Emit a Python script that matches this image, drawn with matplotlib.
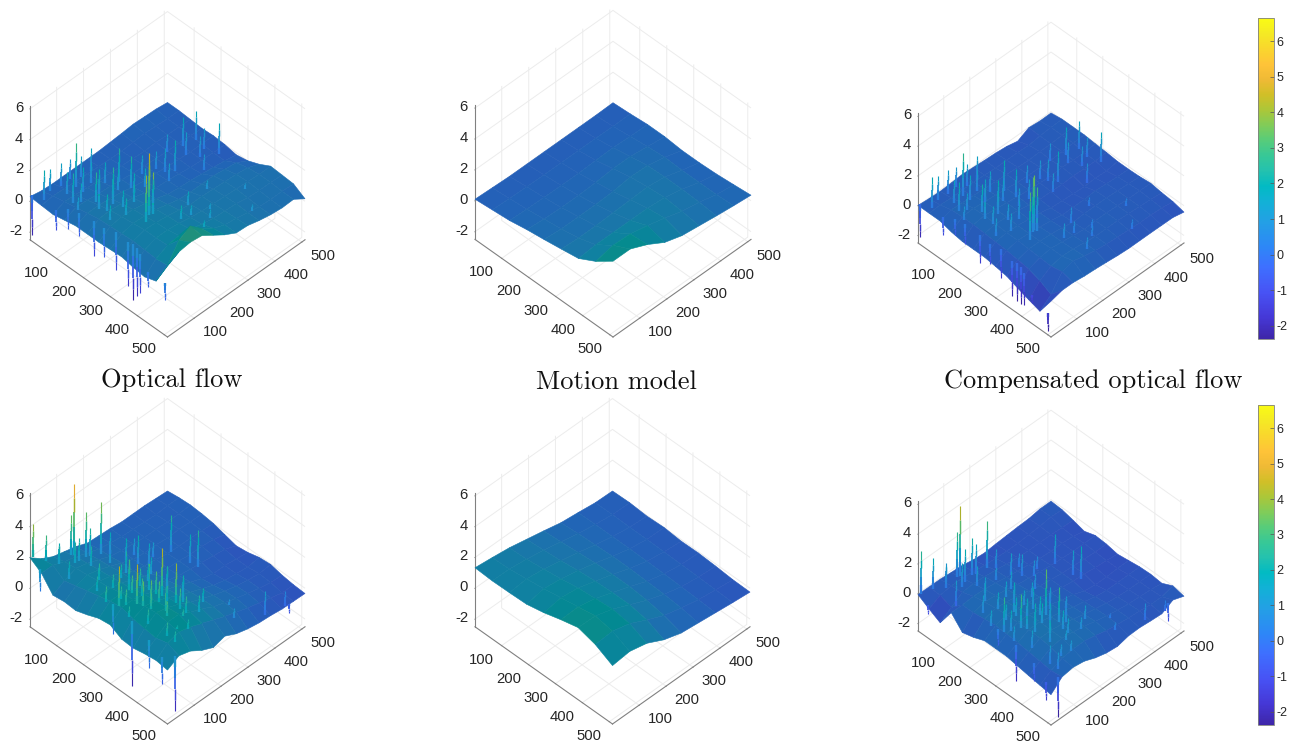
import numpy as np
import matplotlib
matplotlib.use("Agg")
import matplotlib.pyplot as plt
from matplotlib.colors import ListedColormap, LinearSegmentedColormap, Normalize
from matplotlib.cm import ScalarMappable
from mpl_toolkits.mplot3d import proj3d
from mpl_toolkits.mplot3d.art3d import Line3DCollection

plt.rcParams['font.family'] = ['Liberation Sans', 'DejaVu Sans']

titles = ["Optical flow", "Motion model", "Compensated optical flow"]
xy_ticks = [100, 200, 300, 400, 500]
z_ticks = [-2, 0, 2, 4, 6]
bar_ticks = [-2, -1, 0, 1, 2, 3, 4, 5, 6]

parula_stops = [0, 4, 9, 14, 18, 23, 27, 30, 33, 36, 39, 42, 45, 48, 51, 54, 57, 60, 63]
parula_colors = [
    (.2422, .1504, .6603), (.2706, .2147, .8364), (.2810, .3228, .9579), (.2440, .4358, .9988),
    (.1786, .5289, .9682), (.1380, .6276, .8973), (.0689, .6948, .8394), (.0067, .7312, .7660),
    (.1408, .7584, .6842), (.2161, .7843, .5923), (.3406, .8008, .4789), (.5044, .7993, .3480),
    (.6720, .7793, .2227), (.8203, .7498, .1535), (.9393, .7288, .2100), (.9970, .7659, .2199),
    (.9786, .8386, .1766), (.9597, .9135, .1423), (.9769, .9839, .0805),
]

# heights, rows go along the left-front edge, columns along the right-front edge
flow_a = [
    [.3, .15, .1, .1, .1, .1, .1, .15, .2, .27, .23, .2, .1],
    [.25, .35, .3, .25, .2, .15, .12, .1, .15, .2, .15, .1, .1],
    [.2, .5, .45, .35, .3, .25, .2, .15, .1, .15, .1, .1, .05],
    [.35, .65, .6, .5, .45, .35, .25, .2, .15, .1, .1, .05, 0],
    [.5, .8, .8, .7, .6, .4, .3, .25, .15, .1, .05, .05, .05],
    [.5, .95, 1.0, .9, .75, .55, .35, .3, .2, .1, .05, 0, 0],
    [.5, 1.0, 1.1, 1.05, .9, .7, .45, .35, .3, .2, .1, 0, -.14],
    [.55, 1.05, 1.2, 1.15, 1.05, .85, .65, .6, .6, .6, .5, .4, 0],
    [.6, 1.1, 1.3, 1.25, 1.15, 1.0, .85, .85, .8, .75, .7, .6, .3],
    [.45, 1.05, 1.3, 1.3, 1.2, 1.05, .95, .9, .85, .8, .75, .7, .7],
    [.35, 1.0, 1.35, 1.45, 1.35, 1.15, 1.0, .95, .9, .75, .7, .7, .65],
    [.6, 1.1, 2.2, 2.6, 1.9, 1.4, 1.1, 1.0, .85, .7, .65, .65, .6],
    [2.1, 2.5, 2.6, 2.5, 2.0, 1.5, 1.1, 1.05, .85, .7, .62, .65, .16],
]
model_a = [
    [.1, .05, 0, 0, 0, 0, 0, 0, .03],
    [.2, .15, .12, .1, .1, .1, .1, .08, .1],
    [.3, .25, .22, .2, .2, .25, .28, .22, .2],
    [.5, .4, .35, .35, .4, .5, .5, .35, .2],
    [.65, .55, .55, .55, .6, .75, .7, .45, .1],
    [.82, .75, .75, .8, .85, .9, .75, .4, .1],
    [1.0, 1.1, 1.1, 1.1, 1.1, 1.0, .75, .4, .15],
    [1.6, 1.85, 1.8, 1.55, 1.25, .9, .7, .4, .25],
    [2.4, 2.4, 1.9, 1.25, .9, .75, .6, .47, .36],
]
comp_a = [
    [.02, -.05, -.09, -.05, 0, -.05, -.11, -.15, -.23, -.4, -.02, -.1, -.09],
    [.02, .05, 0, 0, 0, -.05, -.1, -.1, -.1, -.15, -.05, 0, .02],
    [.02, .25, .2, .15, .1, .05, 0, -.05, -.1, -.05, -.05, 0, .02],
    [-.18, .3, .35, .25, .2, .1, 0, -.05, -.05, -.1, -.05, 0, .02],
    [-.3, .3, .4, .3, .2, .1, 0, -.05, -.1, -.05, -.1, -.1, -.05],
    [-.3, .25, .35, .3, .2, .05, -.1, -.1, -.15, -.1, -.15, -.15, -.1],
    [-.3, .2, .3, .25, .15, .05, -.15, -.2, -.25, -.3, -.25, -.3, -.18],
    [-.4, .15, .3, .25, .15, .05, -.1, -.1, -.1, -.05, -.1, -.15, -.18],
    [-.52, .05, .25, .25, .2, .1, -.05, 0, 0, 0, -.05, -.1, -.15],
    [-.8, -.05, .2, .3, .2, .1, 0, .05, .05, 0, -.05, -.05, -.07],
    [-1.06, -.3, .15, .3, .25, .15, .05, .05, .05, 0, -.05, -.1, -.18],
    [-1.3, -.7, .3, .5, .3, .15, .05, 0, -.05, -.1, -.1, -.15, -.25],
    [-.1, .1, .1, 0, -.05, -.12, -.2, -.25, -.25, -.25, -.26, -.27, -.43],
]
flow_b = [
    [1.98, 1.4, 1.0, .8, .6, .3, .25, .2, .1, .1, .1, .05, 0],
    [1.5, 1.5, 1.2, 1.0, .7, .45, .3, .2, .15, .1, .05, .1, .1],
    [.6, 1.0, 1.3, 1.1, .8, .5, .35, .25, .15, .15, .1, .1, .15],
    [.7, 1.2, 1.4, 1.2, .9, .6, .3, .2, .2, .1, .15, .1, .1],
    [.65, 1.4, 1.5, 1.3, 1.0, .6, .4, .3, .15, .1, .1, .05, 0],
    [.9, 1.6, 1.6, 1.4, 1.1, .8, .4, .25, .2, .1, .1, 0, -.2],
    [1.2, 1.8, 1.8, 1.5, 1.2, .9, .5, .3, .2, .1, 0, -.1, -.4],
    [1.3, 1.9, 1.9, 1.7, 1.4, 1.0, .7, .4, .1, -.1, -.1, -.2, -.3],
    [.9, 1.7, 2.0, 1.8, 1.5, 1.1, .8, .5, .2, 0, -.1, -.2, -.1],
    [.85, 1.6, 2.1, 1.9, 1.6, 1.2, .9, .6, .35, .15, 0, -.1, -.03],
    [1.0, 1.5, 2.0, 2.0, 1.6, 1.3, .9, .65, .4, .2, 0, -.15, -.2],
    [1.1, 1.7, 1.9, 1.7, 1.4, 1.1, .8, .55, .3, .1, -.1, -.3, -.3],
    [1.0, 1.4, 1.18, .7, .36, .57, .2, -.01, -.14, -.2, -.3, -.32, -.34],
]
model_b = [
    [1.33, 1.2, 1.05, .81, .57, .31, .18, .03, 0],
    [1.27, 1.25, 1.1, .9, .65, .4, .2, .05, .03],
    [1.29, 1.4, 1.25, 1.0, .75, .45, .2, .02, -.05],
    [1.33, 1.55, 1.4, 1.15, .85, .5, .2, .02, 0],
    [1.57, 1.75, 1.6, 1.25, .9, .5, .18, 0, -.1],
    [1.9, 1.95, 1.7, 1.3, .9, .45, .15, -.03, -.08],
    [2.18, 2.15, 1.8, 1.3, .8, .4, .1, -.06, -.14],
    [1.87, 1.95, 1.65, 1.1, .6, .3, .05, -.1, -.23],
    [1.29, 1.42, 1.16, .6, .25, .12, -.01, -.14, -.25],
]
comp_b = [
    [-.06, -.07, -.08, -.15, -.2, -.35, -.42, -.35, -.3, -.25, -.22, -.1, -.1],
    [-.5, -.1, 0, 0, -.1, -.2, -.25, -.3, -.3, -.25, -.2, -.1, -.15],
    [-.9, -.4, .1, .15, .1, 0, -.1, -.2, -.25, -.25, -.25, -.3, -.33],
    [.3, .3, .35, .3, .2, .05, -.05, -.15, -.25, -.3, -.3, -.35, -.54],
    [-.5, .3, .5, .4, .3, .1, 0, -.1, -.2, -.25, -.3, -.3, -.3],
    [-.3, .4, .6, .5, .4, .2, 0, -.1, -.2, -.25, -.3, -.35, -.35],
    [0, .5, .7, .6, .5, .3, .05, -.1, -.2, -.25, -.35, -.4, -.5],
    [0, .45, .7, .7, .5, .35, .1, -.05, -.35, -.45, -.45, -.4, -.4],
    [0, .4, .75, .75, .55, .4, .15, 0, -.2, -.3, -.3, -.3, -.3],
    [-.13, .3, .7, .7, .6, .4, .2, .05, -.1, -.2, -.25, -.25, -.27],
    [-.25, .2, .6, .7, .6, .45, .25, .1, -.05, -.15, -.2, -.25, -.35],
    [-.36, .1, .4, .5, .5, .35, .15, .05, -.05, -.1, -.2, -.2, 0],
    [-.47, .2, .32, .2, -.1, -.3, -.38, -.2, -.18, -.25, -.3, .1, -.17],
]

# spikes standing out of the rough surfaces, same places before and after compensation
spike_u_a = [35, 25, 22, 21, 60, 42, 43, 131, 170, 148, 321, 298, 310, 290, 305, 377, 379, 396, 473, 145, 151, 229,
             199, 202, 180, 105, 157, 181, 171, 225, 203, 2, 210, 285, 335, 350, 365, 490, 80, 155, 420, 385, 120, 250,
             70, 90, 120, 130, 80, 110, 160, 190, 210, 140, 240, 260, 240, 270, 200, 160, 220, 130, 170, 250, 190, 340, 420, 450, 330, 400]
spike_v_a = [19, 53, 94, 128, 114, 149, 185, 203, 207, 272, 113, 148, 150, 155, 140, 187, 223, 276, 353, 427, 468, 476,
             341, 431, 322, 55, 90, 78, 138, 121, 187, 8, 30, 36, 30, 34, 34, 12, 17, 29, 20, 25, 25, 28,
             70, 110, 70, 130, 150, 170, 170, 120, 80, 40, 60, 100, 150, 190, 230, 310, 300, 380, 410, 400, 460, 250, 250, 200, 330, 400]
spike_z_flow_a = [2.2, 1.75, 1.6, 1.4, 3.1, 1.6, 1.7, 2.55, 2.45, 1.5, 4.3, 5.0, 3.9, 4.4, 4.0, 2.1, 1.7, 1.4, 1.3, 2.0, 1.95, 2.0,
                  2.2, 1.4, 1.7, 2.45, 2.7, 2.9, 2.6, 2.0, 2.0, -2.26, -1.35, -1.37, -1.76, -2.5, -2.09, -.5, -1.07, -.72, -.6, -1.5, -.6, -.9,
                  1.9, 2.0, 1.8, 2.1, 1.7, 1.8, 2.0, 2.3, 2.1, 1.5, 2.0, 2.2, 2.2, 2.4, 1.8, 1.4, 1.5, 1.3, 1.5, 1.2, 1.4, 1.8, 1.6, 1.9, 1.4, 1.2]
spike_z_comp_a = [2.1, 1.65, 1.5, 1.3, 2.9, 1.5, 1.6, 2.2, 2.0, 1.2, 3.5, 3.9, 3.2, 3.6, 3.3, 1.2, .9, .6, .6, 1.8, 1.8, 1.9,
                  1.9, 1.2, 1.4, 2.2, 2.3, 2.4, 2.1, 1.4, 1.4, -2.2, -1.6, -1.8, -2.3, -2.5, -2.5, -2.5, -1.2, -1.0, -1.6, -2.2, -.8, -1.2,
                  1.7, 1.8, 1.5, 1.8, 1.5, 1.6, 1.6, 1.8, 1.6, 1.2, 1.4, 1.5, 1.5, 1.6, 1.4, 1.2, 1.2, 1.1, 1.3, 1.0, 1.3, 1.0, .8, 1.0, .6, .5]
spike_u_b = [4, 15, 20, 30, 35, 50, 55, 65, 60, 90, 290, 323, 326, 375, 263, 337, 285, 250, 390, 324, 385, 410, 175, 240, 265, 130,
             150, 175, 500, 510, 140, 345, 470, 505, 420, 270, 30, 510, 300, 350, 310, 360, 400, 270, 330, 220, 200, 250, 430, 440, 460, 380,
             40, 70, 100, 120, 170, 190, 230, 260, 280, 300, 340, 360, 350, 410, 420, 450, 480, 470, 290, 340, 220, 180, 120, 160, 80, 440, 480]
spike_v_b = [8, 45, 90, 123, 129, 159, 169, 202, 124, 57, 44, 76, 166, 170, 107, 84, 160, 34, 119, 147, 185, 235, 352, 356, 362, 229,
             252, 271, 376, 441, 119, 35, 22, 35, 26, 39, 11, 453, 120, 130, 200, 210, 160, 70, 40, 90, 140, 190, 200, 130, 90, 60,
             70, 100, 130, 180, 90, 60, 140, 150, 100, 60, 110, 90, 160, 100, 160, 60, 60, 120, 220, 230, 230, 180, 270, 300, 220, 300, 280]
spike_z_flow_b = [4.1, 3.1, 2.1, 3.6, 5.6, 3.6, 2.5, 3.9, 2.5, 2.2, 4.5, 4.6, 4.6, 4.2, 3.7, 3.6, 3.3, 2.8, 3.8, 3.3, 2.3, 2.2, 2.6, 2.07, 2.6, 2.07,
                  2.2, 1.76, 1.35, .66, 1.8, -2.5, -.7, -2.17, -.3, -.14, .05, -.9, 2.9, 3.2, 2.8, 2.6, 3.0, 2.6, 2.4, 2.5, 2.3, 2.4, 2.4, 2.5, 2.2, 2.6,
                  2.4, 2.6, 2.4, 2.0, 2.6, 2.4, 3.0, 2.7, 3.1, 2.9, 3.4, 3.0, 2.9, 3.0, 2.7, 2.6, 2.4, 2.3, 2.3, 2.2, 1.9, 2.4, 1.4, 1.3, 1.9, 1.0, 1.2]
spike_z_comp_b = [2.8, 2.0, 1.2, 3.0, 4.75, 2.4, 1.9, 3.2, 2.2, 1.3, 2.8, 3.0, 3.6, 3.0, 2.6, 2.5, 2.0, 1.6, 2.4, 2.0, 1.3, 1.4, 1.8, 1.5, 2.0, 1.5,
                  1.4, 1.1, .9, .4, 1.4, -2.0, -1.6, -2.5, -1.0, -.6, -1.1, -1.1, 1.9, 2.1, 1.7, 1.5, 1.9, 1.8, 1.4, 1.7, 1.6, 1.5, 1.3, 1.4, 1.2, 1.5,
                  1.5, 1.7, 1.5, 1.3, 1.7, 1.5, 1.9, 1.6, 2.0, 1.9, 2.2, 2.0, 1.7, 1.9, 1.6, 1.4, 1.3, 1.2, 1.3, 1.2, 1.2, 1.5, .9, .8, 1.3, .4, .6]

parula = LinearSegmentedColormap.from_list("parula", [(s / 63, c) for s, c in zip(parula_stops, parula_colors)], N=256)
dark_parula = ListedColormap(parula(np.arange(256)) * np.array([.74, .74, .74, 1]))
line_parula = ListedColormap(parula(np.arange(256)) * np.array([.9, .9, .9, 1]))
bar_norm = Normalize(-2.37, 6.65)

fig = plt.figure(figsize=(12.94, 7.45), dpi=100)


def place_axes(ax, left_x, right_x, front_y):
    # work out where the box corners land, then move the axes so they sit on the wanted pixels
    proj = ax.get_proj()
    xlo, ylo = ax.viewLim.x0, ax.viewLim.y0
    xspan = ax.viewLim.x1 - xlo
    yspan = ax.viewLim.y1 - ylo
    lx, _, _ = proj3d.proj_transform(1, 1, -2.5, proj)
    rx, _, _ = proj3d.proj_transform(512, 512, -2.5, proj)
    _, fy, _ = proj3d.proj_transform(512, 1, -2.5, proj)
    size = (right_x - left_x) / (rx - lx) * xspan
    x0 = left_x - (lx - xlo) / xspan * size
    y0 = (745 - front_y) - (fy - ylo) / yspan * size
    ax.set_position([x0 / 1294, y0 / 745, size / 1294, size / 745])

    def to_px(x, y, z):
        vx, vy, _ = proj3d.proj_transform(x, y, z, proj)
        return x0 + (vx - xlo) / xspan * size, y0 + (vy - ylo) / yspan * size
    return to_px


def nearest_height(grid, u, v):
    step = 511 / (len(grid) - 1)
    return grid[int(round((u - 1) / step))][int(round((v - 1) / step))]


def draw_spikes(ax, grid, us, vs, tops):
    segs, vals, widths = [], [], []
    for u, v, top in zip(us, vs, tops):
        levels = np.linspace(nearest_height(grid, u, v), top, 6)
        for i in range(5):
            segs.append([(u, v, levels[i]), (u, v, levels[i + 1])])
            vals.append((levels[i] + levels[i + 1]) / 2)
            widths.append(1.7 - .22 * i)
    lines = Line3DCollection(segs, colors=line_parula(bar_norm(vals)), linewidths=widths, zorder=3)
    ax.add_collection3d(lines)


def draw_panel(grid, left_x, right_x, front_y, us=None, vs=None, tops=None):
    ax = fig.add_subplot(projection="3d", computed_zorder=False, proj_type="ortho")
    ax.set_facecolor("none")
    ax.view_init(elev=45, azim=-45)
    ax.set_box_aspect((1, 1, .975))
    ax.set_xlim(1, 512)
    ax.set_ylim(1, 512)
    ax.set_zlim(-2.5, 6.2)

    z = np.array(grid)
    axis_vals = np.linspace(1, 512, len(grid))
    u, v = np.meshgrid(axis_vals, axis_vals, indexing="ij")
    cell_z = (z[:-1, :-1] + z[1:, :-1] + z[:-1, 1:] + z[1:, 1:]) / 4
    ax.plot_surface(u, v, z, rstride=1, cstride=1, facecolors=dark_parula(bar_norm(cell_z)),
                    shade=False, linewidth=.4, zorder=2)
    if us is not None:
        draw_spikes(ax, grid, us, vs, tops)

    ax.set_xticks(xy_ticks)
    ax.set_yticks(xy_ticks)
    ax.set_zticks(z_ticks)
    ax.set_xticklabels([])
    ax.set_yticklabels([])
    ax.set_zticklabels([])
    ax.tick_params(axis="both", color="#808080")
    for axis in (ax.xaxis, ax.yaxis, ax.zaxis):
        axis.set_pane_color((1, 1, 1, 0))
        axis.pane.set_edgecolor("#ececec")
        axis.line.set_color("#808080")
        axis.line.set_linewidth(.8)
        axis._axinfo["grid"].update(color="#ececec", linewidth=.7)
        axis._axinfo["tick"].update(linewidth={True: .6, False: .4}, inward_factor=.015, outward_factor=0)
    ax.zaxis.set_ticks_position("lower")
    to_px = place_axes(ax, left_x, right_x, front_y)

    # tick labels sit at a fixed pixel offset from their ticks
    label_style = dict(fontsize=10.7, color="#262626", va="center")
    for t in xy_ticks:
        px, py = to_px(t, 1, -2.5)
        fig.text((px - 20) / 1294, (py - 14) / 745, str(t), ha="center", **label_style)
        px, py = to_px(512, t, -2.5)
        fig.text((px + 21) / 1294, (py - 14) / 745, str(t), ha="center", **label_style)
    for t in z_ticks:
        px, py = to_px(1, 1, t)
        fig.text((px - 7) / 1294, (py + 1) / 745, str(t), ha="right", **label_style)
    return ax


draw_panel(flow_a, 30, 305, 337, spike_u_a, spike_v_a, spike_z_flow_a)
draw_panel(model_a, 475, 751, 337)
draw_panel(comp_a, 918, 1184, 337, spike_u_a, spike_v_a, spike_z_comp_a)
draw_panel(flow_b, 30, 305, 724, spike_u_b, spike_v_b, spike_z_flow_b)
draw_panel(model_b, 475, 750, 724)
draw_panel(comp_b, 918, 1184, 725, spike_u_b, spike_v_b, spike_z_comp_b)

title_x = [172, 616, 1093]
title_y = [380, 382, 381]
for name, tx, ty in zip(titles, title_x, title_y):
    fig.text(tx / 1294, 1 - ty / 745, name, family="cmr10", fontsize=19, ha="center", va="center", color="#111111")

for top_px, bottom_px in [(18, 339), (405, 725)]:
    cax = fig.add_axes([1258 / 1294, 1 - bottom_px / 745, 16 / 1294, (bottom_px - top_px) / 745])
    bar = fig.colorbar(ScalarMappable(norm=bar_norm, cmap=parula), cax=cax)
    bar.set_ticks(bar_ticks)
    bar.set_ticklabels([str(t) for t in bar_ticks])
    bar.ax.tick_params(labelsize=9, direction="in", length=3, width=.5, color="#555555", labelcolor="#262626", pad=2)
    bar.outline.set_edgecolor("#808080")
    bar.outline.set_linewidth(.6)

fig.savefig("out.png", dpi=100)
